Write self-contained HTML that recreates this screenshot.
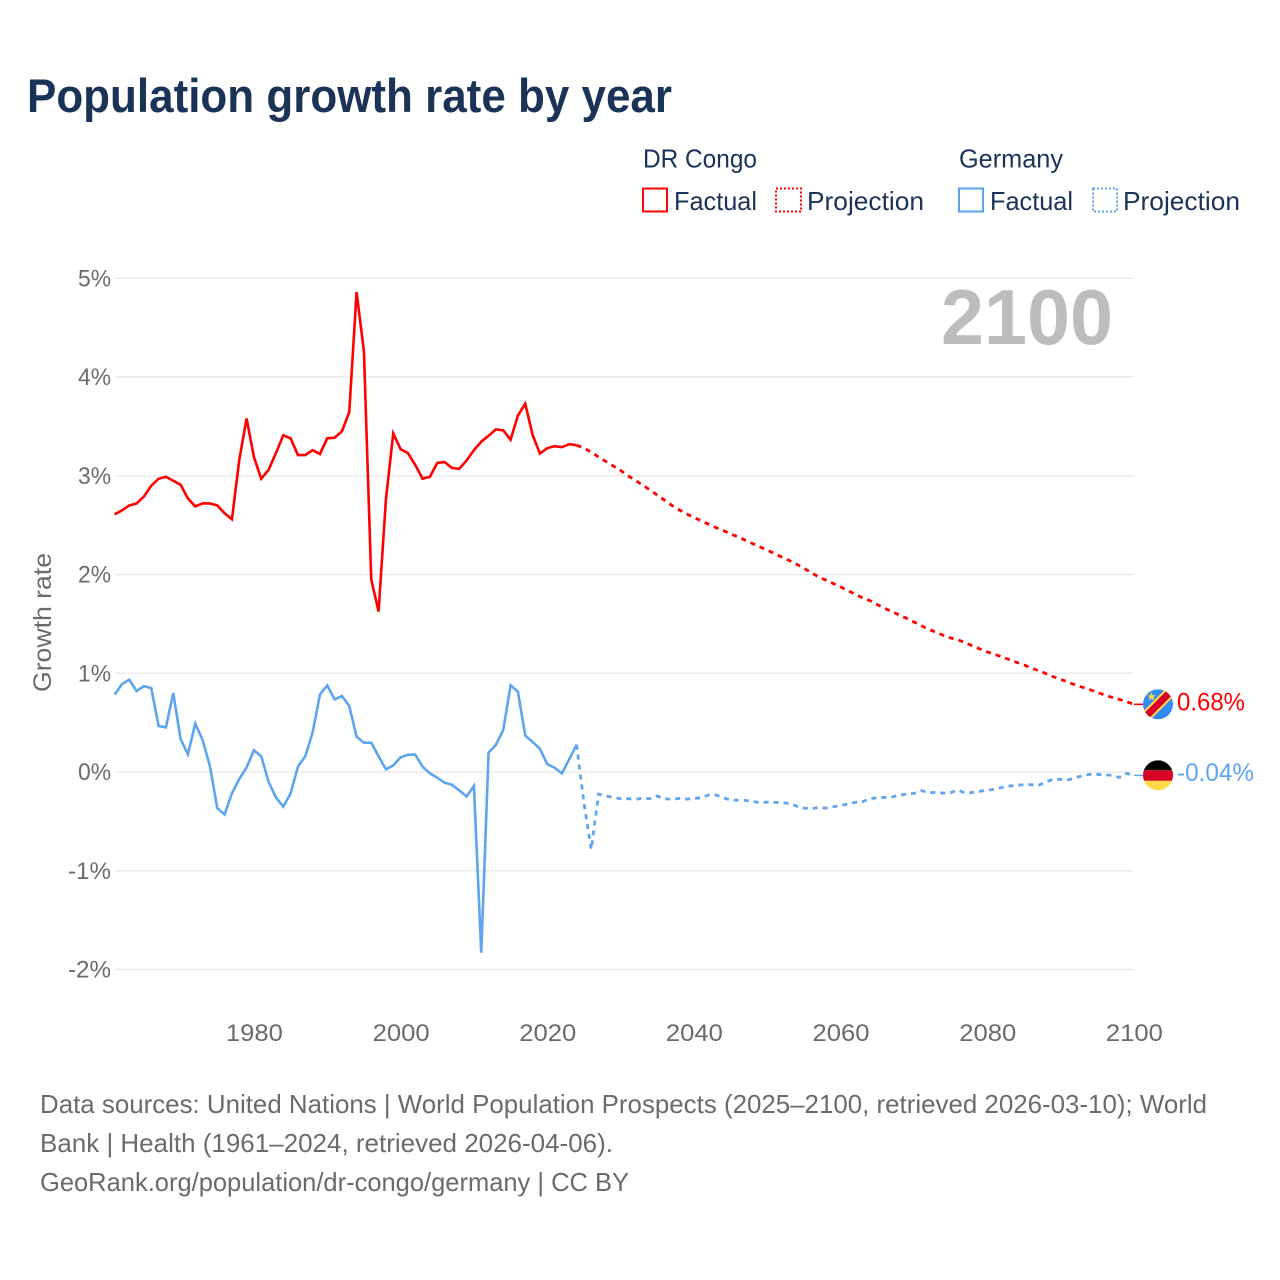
<!DOCTYPE html>
<html lang="en">
<head>
<meta charset="utf-8">
<title>Population growth rate by year</title>
<style>
html,body{margin:0;padding:0;background:#fff;}
svg{display:block;font-family:"Liberation Sans",sans-serif;}
.leg{font-size:26px;fill:#1b3358;}
.foot{font-size:26px;fill:#6b6b6b;}
</style>
</head>
<body>
<svg id="chart" xmlns="http://www.w3.org/2000/svg" width="1280" height="1280" viewBox="0 0 1280 1280">
  <rect x="0" y="0" width="1280" height="1280" fill="#ffffff"/>
  <text x="27" y="112" font-size="47" font-weight="700" fill="#1a3356" textLength="645" lengthAdjust="spacingAndGlyphs">Population growth rate by year</text>

  <g>
    <text class="leg" x="643" y="167.5" textLength="114" lengthAdjust="spacingAndGlyphs">DR Congo</text>
    <text class="leg" x="959" y="167.5" textLength="104" lengthAdjust="spacingAndGlyphs">Germany</text>
    <rect x="643" y="188.5" width="24" height="23" fill="none" stroke="#ff0000" stroke-width="2"/>
    <text class="leg" x="674" y="210" textLength="83" lengthAdjust="spacingAndGlyphs">Factual</text>
    <rect x="776" y="188.5" width="25" height="23" fill="none" stroke="#ff0000" stroke-width="2" stroke-dasharray="2 2"/>
    <text class="leg" x="807" y="210" textLength="117" lengthAdjust="spacingAndGlyphs">Projection</text>
    <rect x="959" y="188.5" width="24" height="23" fill="none" stroke="#5ea5ee" stroke-width="2"/>
    <text class="leg" x="990" y="210" textLength="83" lengthAdjust="spacingAndGlyphs">Factual</text>
    <rect x="1093" y="188.5" width="24" height="23" fill="none" stroke="#5ea5ee" stroke-width="2" stroke-dasharray="2 2"/>
    <text class="leg" x="1123" y="210" textLength="117" lengthAdjust="spacingAndGlyphs">Projection</text>
  </g>

  <g id="grid"></g>
  <g id="yticks"></g>
  <g id="xticks"></g>
  <text transform="translate(51 692) rotate(-90)" font-size="25" fill="#6b6b6b" textLength="139" lengthAdjust="spacingAndGlyphs">Growth rate</text>
  <text x="941" y="344" font-size="78" font-weight="700" fill="#bdbdbd" textLength="172" lengthAdjust="spacingAndGlyphs">2100</text>

  <g id="series"></g>

  <defs>
    <clipPath id="clip-drc"><circle cx="1158" cy="704.3" r="15"/></clipPath>
    <clipPath id="clip-de"><circle cx="1158" cy="775.3" r="15"/></clipPath>
  </defs>
  <g clip-path="url(#clip-drc)">
    <rect x="1143" y="689.3" width="30" height="30" fill="#338af3"/>
    <line x1="1143" y1="719.3" x2="1173" y2="689.3" stroke="#ffda44" stroke-width="11"/>
    <line x1="1143" y1="719.3" x2="1173" y2="689.3" stroke="#d80027" stroke-width="7"/>
    <polygon points="1151.5,692 1152.7,695.4 1156,695.4 1153.3,697.4 1154.3,700.6 1151.5,698.7 1148.7,700.6 1149.7,697.4 1147,695.4 1150.3,695.4" fill="#ffda44"/>
  </g>
  <g clip-path="url(#clip-de)">
    <rect x="1143" y="760.3" width="30" height="10" fill="#000000"/>
    <rect x="1143" y="770.3" width="30" height="10.5" fill="#d80027"/>
    <rect x="1143" y="780.8" width="30" height="10" fill="#ffda44"/>
  </g>
  <text x="1177" y="710.5" font-size="25" fill="#ff0000" textLength="68" lengthAdjust="spacingAndGlyphs">0.68%</text>
  <text x="1177" y="781" font-size="25" fill="#5ea5ee" textLength="77" lengthAdjust="spacingAndGlyphs">-0.04%</text>

  <g>
    <text class="foot" x="40" y="1113" textLength="1167" lengthAdjust="spacingAndGlyphs">Data sources: United Nations | World Population Prospects (2025–2100, retrieved 2026-03-10); World</text>
    <text class="foot" x="40" y="1152" textLength="573" lengthAdjust="spacingAndGlyphs">Bank | Health (1961–2024, retrieved 2026-04-06).</text>
    <text class="foot" x="40" y="1191" textLength="589" lengthAdjust="spacingAndGlyphs">GeoRank.org/population/dr-congo/germany | CC BY</text>
  </g>
</svg>
<script>
const yTickValues = [5, 4, 3, 2, 1, 0, -1, -2];
const yTickLabels = ["5%", "4%", "3%", "2%", "1%", "0%", "-1%", "-2%"];
const xTickValues = [1980, 2000, 2020, 2040, 2060, 2080, 2100];
const xTickLabels = ["1980", "2000", "2020", "2040", "2060", "2080", "2100"];
const factualStartYear = 1961;
const projectionStartYear = 2024;
const drcFactual = [2.61,2.65,2.70,2.72,2.79,2.90,2.97,2.99,2.95,2.91,2.77,2.69,2.72,2.72,2.70,2.62,2.56,3.16,3.58,3.19,2.97,3.06,3.23,3.41,3.38,3.21,3.21,3.26,3.22,3.38,3.385,3.45,3.645,4.86,4.26,1.95,1.625,2.76,3.43,3.27,3.23,3.11,2.97,2.99,3.13,3.14,3.08,3.07,3.155,3.26,3.345,3.405,3.47,3.46,3.365,3.61,3.73,3.415,3.225,3.28,3.30,3.29,3.32,3.31];
const drcProjection = [3.31,3.28,3.24,3.19,3.145,3.10,3.054,3.00,2.956,2.905,2.858,2.804,2.753,2.70,2.655,2.615,2.578,2.544,2.51,2.476,2.446,2.412,2.382,2.348,2.314,2.28,2.247,2.213,2.176,2.142,2.105,2.064,2.02,1.976,1.943,1.909,1.875,1.838,1.80,1.764,1.736,1.696,1.659,1.625,1.591,1.557,1.52,1.483,1.446,1.416,1.385,1.358,1.338,1.311,1.277,1.247,1.216,1.193,1.166,1.139,1.111,1.085,1.054,1.027,0.997,0.966,0.939,0.912,0.882,0.858,0.834,0.807,0.78,0.757,0.736,0.713,0.686];
const germanyFactual = [0.784,0.89,0.936,0.82,0.87,0.85,0.466,0.453,0.80,0.334,0.18,0.49,0.325,0.06,-0.365,-0.43,-0.216,-0.07,0.047,0.22,0.16,-0.10,-0.257,-0.35,-0.216,0.054,0.16,0.40,0.784,0.878,0.736,0.77,0.67,0.358,0.297,0.297,0.16,0.027,0.068,0.149,0.176,0.176,0.054,-0.014,-0.057,-0.108,-0.128,-0.186,-0.247,-0.139,-1.83,0.196,0.277,0.426,0.878,0.814,0.37,0.304,0.236,0.08,0.044,-0.014,0.13,0.277];
const germanyProjection = [0.277,-0.31,-0.784,-0.223,-0.243,-0.257,-0.27,-0.27,-0.277,-0.264,-0.27,-0.243,-0.27,-0.277,-0.267,-0.274,-0.267,-0.26,-0.233,-0.233,-0.26,-0.284,-0.284,-0.287,-0.297,-0.31,-0.304,-0.307,-0.31,-0.318,-0.345,-0.365,-0.372,-0.358,-0.365,-0.351,-0.338,-0.324,-0.307,-0.30,-0.27,-0.26,-0.257,-0.253,-0.236,-0.223,-0.216,-0.189,-0.209,-0.206,-0.213,-0.209,-0.182,-0.213,-0.206,-0.196,-0.182,-0.176,-0.155,-0.142,-0.135,-0.128,-0.128,-0.135,-0.10,-0.074,-0.074,-0.08,-0.06,-0.034,-0.024,-0.024,-0.027,-0.034,-0.054,-0.014,-0.034];

const SVG_NS = "http://www.w3.org/2000/svg";
const RED = "#ff0000";
const BLUE = "#5ea5ee";
const GRAY = "#6b6b6b";
const GRID = "#ebebeb";
const FLAG_EDGE = 1143;

function xScale(year) {
  return 114.6 + (year - 1961) * 7.333;
}
function yScale(value) {
  return 772.05 - value * 98.75;
}
function make(tag, parent, attrs, text) {
  const el = document.createElementNS(SVG_NS, tag);
  Object.keys(attrs).forEach(function (k) { el.setAttribute(k, attrs[k]); });
  if (text !== undefined) el.textContent = text;
  parent.appendChild(el);
  return el;
}
function pointsFrom(values, startYear) {
  return values.map(function (v, i) {
    return xScale(startYear + i).toFixed(2) + "," + yScale(v).toFixed(2);
  }).join(" ");
}

const gridGroup = document.getElementById("grid");
const yGroup = document.getElementById("yticks");
const xGroup = document.getElementById("xticks");
const seriesGroup = document.getElementById("series");

yTickValues.forEach(function (v, i) {
  const line = make("line", gridGroup, { x1: 115, x2: 1133.5, y1: yScale(v), y2: yScale(v), stroke: GRID, "stroke-width": 1.5 });
  
  
  const label = yTickLabels[i];
  const t = make("text", yGroup, { x: 111, y: yScale(v) + 8, "text-anchor": "end", "font-size": 24, fill: GRAY, textLength: label.length > 2 ? 43 : 33, lengthAdjust: "spacingAndGlyphs" }, label);
  
  
});

xTickValues.forEach(function (v, i) {
  const t = make("text", xGroup, { x: xScale(v) + 0.5, y: 1041, "text-anchor": "middle", "font-size": 24, fill: GRAY, textLength: 57, lengthAdjust: "spacingAndGlyphs" }, xTickLabels[i]);
  
  
});

function drawSeries(values, startYear, color, dashed, name) {
  const attrs = { points: pointsFrom(values, startYear), fill: "none", stroke: color, "stroke-width": dashed ? 2.8 : 2.6, "stroke-linejoin": "miter" };
  if (dashed) attrs["stroke-dasharray"] = "5 5";
  const line = make("polyline", seriesGroup, attrs);
  
  
}

drawSeries(drcFactual, factualStartYear, RED, false, "dr-congo-factual-line");
drawSeries(drcProjection, projectionStartYear, RED, true, "dr-congo-projection-line");
drawSeries(germanyFactual, factualStartYear, BLUE, false, "germany-factual-line");
drawSeries(germanyProjection, projectionStartYear, BLUE, true, "germany-projection-line");

const lastYear = projectionStartYear + drcProjection.length - 1;
const drcConnector = make("line", seriesGroup, { x1: xScale(lastYear), x2: FLAG_EDGE, y1: yScale(drcProjection[drcProjection.length - 1]), y2: yScale(drcProjection[drcProjection.length - 1]), stroke: RED, "stroke-width": 1.5 });


const deConnector = make("line", seriesGroup, { x1: xScale(lastYear), x2: FLAG_EDGE, y1: yScale(germanyProjection[germanyProjection.length - 1]), y2: yScale(germanyProjection[germanyProjection.length - 1]), stroke: BLUE, "stroke-width": 1.5 });


</script>
</body>
</html>
